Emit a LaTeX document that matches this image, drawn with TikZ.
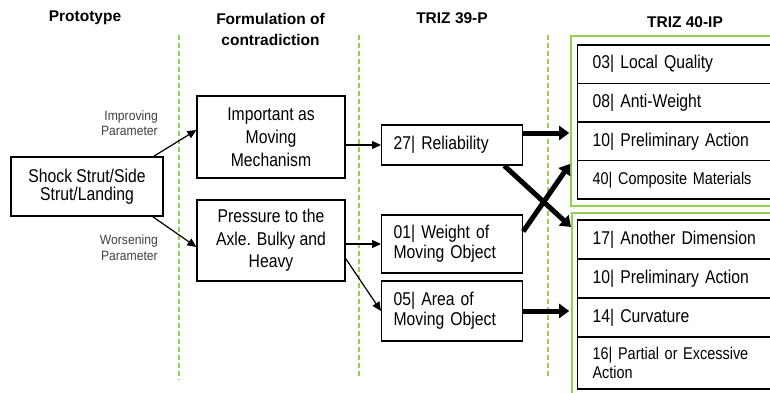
\documentclass[tikz,border=0pt]{standalone}
\usepackage{fontspec}
\setmainfont{Liberation Sans}
\newfontfamily\narrowfont{Liberation Sans}[FakeStretch=0.85]
\newfontfamily\lblnarrow{Liberation Sans}[FakeStretch=0.9]
\usetikzlibrary{arrows.meta,calc}
\definecolor{lgreen}{HTML}{92D050}
\definecolor{lblgray}{HTML}{404040}
\begin{document}
\begin{tikzpicture}[x=1pt,y=-1pt,
  every node/.style={inner sep=0pt},
  mainfont/.style={font=\narrowfont\fontsize{18.5}{20}\selectfont},
  smallfont/.style={font=\narrowfont\fontsize{17}{19}\selectfont},
  titlefont/.style={font=\fontsize{15.5}{21}\selectfont\bfseries},
  lblfont/.style={font=\lblnarrow\fontsize{13.5}{15.5}\selectfont, text=lblgray, align=right},
  box/.style={draw, line width=1.2pt, align=center, mainfont},
  lbox/.style={draw, line width=1.2pt, align=left, mainfont, inner xsep=12pt, text width=117pt},
  rowbox/.style={draw, line width=1.2pt, align=left, mainfont, inner xsep=15pt, text width=173pt, minimum width=203pt, anchor=west},
  greenbox/.style={draw=lgreen, line width=2pt},
  sep/.style={draw=lgreen, line width=1.2pt, dash pattern=on 5pt off 3pt},
  thinarrow/.style={line width=1.2pt, -{Triangle[length=9pt,width=8pt]}},
  thickarrow/.style={line width=5pt, -{Triangle[length=10pt,width=14pt]}}
]
\useasboundingbox (0,0) rectangle (770,392);

% separators
\draw[sep] (179,35) -- (179,380);
\draw[sep] (359,35) -- (359,378);
\draw[sep] (548,35) -- (548,378);

% titles
\node[titlefont] (t1) at (85,18) {Prototype};
\node[titlefont, align=center] (t2) at (270.5,29) {Formulation of\\contradiction};
\node[titlefont] (t3) at (452,18) {TRIZ 39-P};
\node[titlefont] (t4) at (685,22) {TRIZ 40-IP};

% left column
\node[box, minimum width=152pt, minimum height=59pt, font=\narrowfont\fontsize{18.5}{18.5}\selectfont] (proto) at (87,186.5) {Shock Strut/Side\\Strut/Landing};
\node[box, minimum width=148pt, minimum height=82pt, font=\narrowfont\fontsize{18.5}{23}\selectfont] (imp) at (271,137) {Important as\\Moving\\Mechanism};
\node[box, minimum width=148pt, minimum height=81pt, font=\narrowfont\fontsize{18.5}{22.5}\selectfont] (pres) at (271,240.5) {Pressure to the\\Axle. Bulky and\\Heavy};

\node[lblfont, anchor=east] (implbl) at (158,123) {Improving\\Parameter};
\node[lblfont, anchor=east] (worlbl) at (158,247.5) {Worsening\\Parameter};

% TRIZ 39-P
\node[lbox, minimum height=40pt, anchor=west] (rel) at (381,145) {27| Reliability};
\node[lbox, minimum height=58pt, anchor=west] (weight) at (381,244) {01| Weight of\\Moving Object};
\node[lbox, minimum height=60pt, anchor=west] (area) at (381,311) {05| Area of\\Moving Object};

% TRIZ 40-IP groups
\node[greenbox, minimum width=209pt, minimum height=170pt] (g1) at (675.5,121) {};
\node[greenbox, minimum width=208pt, minimum height=183pt] (g2) at (676,304.5) {};

\node[rowbox, minimum height=38.5pt] (r1) at (577,64.25) {03| Local Quality};
\node[rowbox, minimum height=38.5pt] (r2) at (577,102.75) {08| Anti-Weight};
\node[rowbox, minimum height=38.5pt] (r3) at (577,141.25) {10| Preliminary Action};
\node[rowbox, minimum height=38.5pt, smallfont] (r4) at (577,179.75) {40| Composite Materials};

\node[rowbox, minimum height=39pt] (s1) at (577,239.5) {17| Another Dimension};
\node[rowbox, minimum height=39pt] (s2) at (577,278.5) {10| Preliminary Action};
\node[rowbox, minimum height=39pt] (s3) at (577,317.5) {14| Curvature};
\node[rowbox, minimum height=52pt, smallfont] (s4) at (577,363) {16| Partial or Excessive\\Action};

% thin arrows
\draw[thinarrow] ([xshift=-10pt]proto.north east) -- ([yshift=7pt]imp.west);
\draw[thinarrow] ([xshift=-11pt]proto.south east) -- ([yshift=-6.5pt]pres.west);
\draw[thinarrow] (imp.east |- rel.west) -- (rel.west);
\draw[thinarrow] (pres.east |- weight.west) -- (weight.west);
\draw[thinarrow] ([yshift=-18pt]pres.east) -- (area.west);

% thick arrows
\draw[thickarrow] ([yshift=12pt]rel.east) -- ++(46,0);
\draw[thickarrow] ([xshift=-19pt]rel.south east) -- ([yshift=-15pt]g2.north west);
\draw[thickarrow] ([yshift=-17pt]weight.north east) -- ([yshift=43pt]g1.south west);
\draw[thickarrow] (area.east) -- ++(46,0);
\end{tikzpicture}
\end{document}
